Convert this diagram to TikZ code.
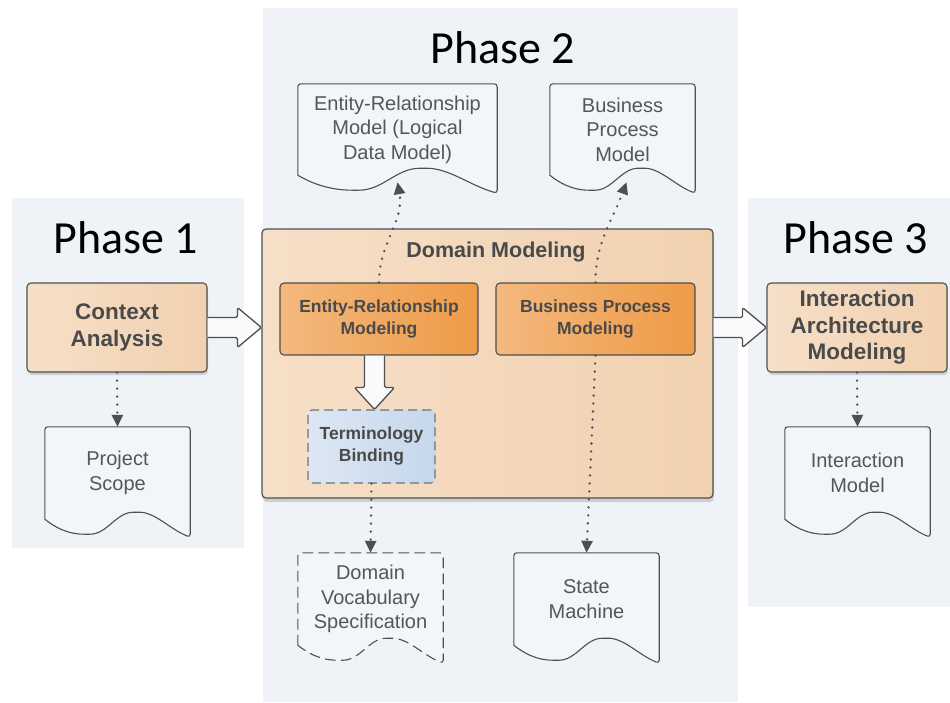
\documentclass[tikz,border=0pt]{standalone}
\usepackage{fontspec}
\setmainfont{Liberation Sans}
\newfontfamily\phasefont{Carlito}
\usepackage{tikz}
\usetikzlibrary{positioning, calc, arrows.meta, shadows}
\definecolor{panelbg} {HTML}{EFF3F8}
\definecolor{docbg}   {HTML}{F2F5F9}
\definecolor{peachL}  {HTML}{F6DFC8}
\definecolor{peachR}  {HTML}{F1D1B0}
\definecolor{orangeL} {HTML}{F4B87E}
\definecolor{orangeR} {HTML}{EE9B46}
\definecolor{blueL}   {HTML}{DDE7F3}
\definecolor{blueR}   {HTML}{C5D7EC}
\definecolor{edge}    {HTML}{4F4F4F}
\definecolor{boxtext} {HTML}{4A4A4A}
\definecolor{doctext} {HTML}{565656}
\tikzset{
  >={Triangle[length=12pt, width=11pt]},
  panel/.style={
    draw=none, fill=panelbg, rectangle, inner sep=0pt
  },
  phaselabel/.style={
    font=\phasefont\fontsize{46}{50}\selectfont, text=black,
    inner sep=0pt, anchor=base
  },
  stage/.style={
    draw=edge, line width=1.1pt, rounded corners=4pt,
    rectangle, align=center, inner sep=2pt,
    left color=peachL, right color=peachR,
    font=\bfseries\fontsize{22.5}{26.5}\selectfont, text=boxtext,
    drop shadow={shadow xshift=1pt, shadow yshift=-3pt, opacity=0.3}
  },
  domainbox/.style={
    draw=edge, line width=1.2pt, rounded corners=4pt,
    rectangle, inner sep=0pt,
    left color=peachL, right color=peachR,
    drop shadow={shadow xshift=1pt, shadow yshift=-4pt, opacity=0.3}
  },
  domtitle/.style={
    font=\bfseries\fontsize{21.5}{25}\selectfont, text=boxtext, inner sep=0pt
  },
  task/.style={
    draw=edge, line width=1.1pt, rounded corners=4pt,
    rectangle, align=center, inner sep=2pt,
    left color=orangeL, right color=orangeR,
    font=\bfseries\fontsize{17.5}{22}\selectfont, text=boxtext
  },
  binding/.style={
    draw=edge!80, line width=1.1pt, rounded corners=4pt,
    dash pattern=on 9pt off 5pt,
    rectangle, align=center, inner sep=2pt,
    left color=blueL, right color=blueR,
    font=\bfseries\fontsize{17.5}{22}\selectfont, text=boxtext
  },
  docnode/.style={
    draw=none, rectangle, align=center, inner sep=0pt,
    font=\fontsize{20}{24.5}\selectfont, text=doctext
  },
  docline/.style={
    draw=edge, line width=1.1pt, fill=docbg,
    rounded corners=3pt, line join=round, line cap=round
  },
  dotarrow/.style={
    draw=edge, line width=2.6pt, line cap=round,
    dash pattern=on 0pt off 8pt, ->
  },
  hollow/.style={
    draw=edge, line width=1.3pt, fill=white!60!panelbg,
    rounded corners=1.5pt, line join=round
  },
}
% document outline: straight sides, wavy bottom below the node
\newcommand{\docoutline}[2][]{%
  \path[docline, #1] let \p1=(#2.south west), \p2=(#2.north east), \n1={\x2-\x1} in
    (\x1,\y1) -- (\x1,\y2) -- (\x2,\y2) -- (\x2,\y1-18pt)
    .. controls (\x1+0.86*\n1,\y1-10pt) and (\x1+0.76*\n1,\y1+7pt) .. (\x1+0.63*\n1,\y1+7pt)
    .. controls (\x1+0.49*\n1,\y1+7pt) and (\x1+0.43*\n1,\y1-15pt) .. (\x1+0.29*\n1,\y1-15pt)
    .. controls (\x1+0.15*\n1,\y1-15pt) and (\x1+0.06*\n1,\y1-7pt) .. (\x1,\y1);
}
% block arrows
\newcommand{\hollowright}[2]{%
  \draw[hollow] let \p1=(#1), \p2=(#2) in
    (\x1,\y1+10pt) -- (\x2-24pt,\y1+10pt) -- (\x2-24pt,\y1+20pt)
    -- (\x2,\y1) -- (\x2-24pt,\y1-20pt) -- (\x2-24pt,\y1-10pt) -- (\x1,\y1-10pt);
}
\newcommand{\hollowdown}[2]{%
  \draw[hollow] let \p1=(#1), \p2=(#2) in
    (\x2-10pt,\y1) -- (\x2-10pt,\y2+22pt) -- (\x2-20pt,\y2+22pt)
    -- (\x2,\y2) -- (\x2+20pt,\y2+22pt) -- (\x2+10pt,\y2+22pt) -- (\x2+10pt,\y1);
}

\begin{document}
\begin{tikzpicture}[x=1pt, y=-1pt]
\useasboundingbox (0,0) rectangle (950,702);

% ---- Phase panels (background) ------------------------------------
\node[panel, minimum width=232pt, minimum height=350pt] (panel1) at (128,373)   {};
\node[panel, minimum width=475pt, minimum height=694pt] (panel2) at (500.5,355) {};
\node[panel, minimum width=202pt, minimum height=409pt] (panel3) at (849,402.5) {};

\node[phaselabel] (ph1) at (126,253) {Phase 1};
\node[phaselabel] (ph2) at (503,63)  {Phase 2};
\node[phaselabel] (ph3) at (856,253) {Phase 3};

% ---- Nodes ---------------------------------------------------------
% Phase 1
\node[stage, minimum width=180pt, minimum height=89pt] (ctx) at (117,327.5) {Context\\Analysis};
\node[docnode, minimum width=145pt, minimum height=92pt] (scope) at (117.5,473) {Project\\Scope};

% Phase 2: domain modeling and its artefacts
\node[domainbox, minimum width=451pt, minimum height=269pt] (dom) at (487.5,363.5) {};
\node[domtitle] (domtitle) at (496,252) {Domain Modeling};
\node[task, minimum width=198pt, minimum height=72pt] (ermod) at (379,319)   {Entity-Relationship\\Modeling};
\node[task, minimum width=199pt, minimum height=72pt] (bpmod) at (595.5,319) {Business Process\\Modeling};
\node[binding, minimum width=127pt, minimum height=73pt] (term) at (371.5,446.5) {Terminology\\Binding};

\node[docnode, minimum width=199pt, minimum height=91pt] (ermodel) at (397.5,129.5) {Entity-Relationship\\Model (Logical\\Data Model)};
\node[docnode, minimum width=145pt, minimum height=91pt] (bpmodel) at (622.5,129.5) {Business\\Process\\Model};
\node[docnode, minimum width=145pt, minimum height=92pt] (vocab)   at (370.5,599)   {Domain\\Vocabulary\\Specification};
\node[docnode, minimum width=145pt, minimum height=92pt] (statem)  at (586.5,599)   {State\\Machine};

% Phase 3
\node[stage, minimum width=180pt, minimum height=89pt] (iam) at (857,327.5) {Interaction\\Architecture\\Modeling};
\node[docnode, minimum width=145pt, minimum height=92pt] (imodel) at (857.5,473) {Interaction\\Model};

% ---- Document outlines (behind their text) ------------------------
\begin{scope}
  \docoutline{scope}
  \docoutline{ermodel}
  \docoutline{bpmodel}
  \docoutline[dash pattern=on 10pt off 6pt]{vocab}
  \docoutline{statem}
  \docoutline{imodel}
\end{scope}
% re-set the texts on top of the outlines
\node[docnode] at (scope)   {Project\\Scope};
\node[docnode] at (ermodel) {Entity-Relationship\\Model (Logical\\Data Model)};
\node[docnode] at (bpmodel) {Business\\Process\\Model};
\node[docnode] at (vocab)   {Domain\\Vocabulary\\Specification};
\node[docnode] at (statem)  {State\\Machine};
\node[docnode] at (imodel)  {Interaction\\Model};

% ---- Block arrows --------------------------------------------------
\hollowright{ctx.east}{dom.west |- ctx.east}
\hollowright{dom.east |- iam.west}{iam.west}
\hollowdown{ermod.south}{$(term.north)+(3pt,0)$}

% ---- Dotted artefact links ----------------------------------------
\draw[dotarrow] (ctx.south) -- (scope.north);
\draw[dotarrow] (iam.south) -- (imodel.north);
\draw[dotarrow] (term.south) -- (vocab.north);
\draw[dotarrow] (bpmod.south) -- (statem.north);
\draw[dotarrow] (ermod.north) to[out=90, in=-80] ($(ermodel.south)+(0,-7pt)$);
\draw[dotarrow] (bpmod.north) to[out=90, in=-110] ($(bpmodel.south)+(4pt,-7pt)$);

\end{tikzpicture}
\end{document}
